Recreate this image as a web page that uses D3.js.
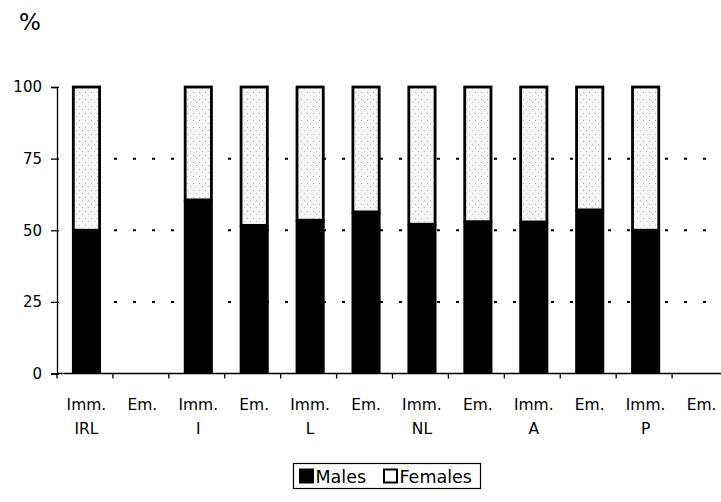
<!DOCTYPE html>
<html><head><meta charset="utf-8">
<script src="https://cdn.jsdelivr.net/npm/d3@7"></script>
<style>body{margin:0;background:#fff}svg{display:block}text{font-family:"DejaVu Sans",Arial,sans-serif;fill:#000}</style>
</head><body>
<script>
const categories = ["IRL-Imm","IRL-Em","I-Imm","I-Em","L-Imm","L-Em","NL-Imm","NL-Em","A-Imm","A-Em","P-Imm","P-Em"];
const flowLabels = ["Imm.","Em.","Imm.","Em.","Imm.","Em.","Imm.","Em.","Imm.","Em.","Imm.","Em."];
const countryLabels = ["IRL","","I","","L","","NL","","A","","P",""];
const males = [50.0,null,60.6,51.7,53.5,56.4,52.1,53.0,52.9,57.1,50.0,null];
const females = males.map(v => v == null ? null : 100 - v);
const yTicks = [0,25,50,75,100];
const seriesNames = ["Males","Females"];

const W = 721, H = 502;
const svg = d3.select("body").append("svg").attr("width", W).attr("height", H);

const defs = svg.append("defs");
const pat = defs.append("pattern").attr("id","stip").attr("patternUnits","userSpaceOnUse").attr("width",6).attr("height",7);
pat.append("rect").attr("width",6).attr("height",7).attr("fill","#f6f6f6");
pat.append("rect").attr("x",1).attr("y",1).attr("width",1).attr("height",1).attr("fill","#b0b0b0");
pat.append("rect").attr("x",4).attr("y",4).attr("width",1).attr("height",1).attr("fill","#c4c4c4");

const x = d3.scaleBand().domain(categories).range([58.5, 729.5]).paddingInner(0.53).paddingOuter(0.265);
const y = d3.scaleLinear().domain([0,100]).range([373.5, 87]);
const step = x.step();
const edge = d => x(d) - x.paddingOuter() * step;

// dotted gridlines
svg.append("g").selectAll("line").data(yTicks.filter(t => t > 0 && t < 100)).join("line")
  .attr("x1", 114).attr("x2", 728)
  .attr("y1", d => y(d)).attr("y2", d => y(d))
  .attr("stroke", "#000").attr("stroke-width", 2).attr("stroke-dasharray", "3,16");

// bars
const data = categories.map((c,i) => ({c, m: males[i], f: females[i]})).filter(d => d.m != null);
const g = svg.append("g");
g.selectAll("rect.f").data(data).join("rect").attr("class","f")
  .attr("x", d => x(d.c)).attr("width", x.bandwidth())
  .attr("y", d => y(d.m + d.f)).attr("height", d => y(d.m) - y(d.m + d.f))
  .attr("fill", "url(#stip)").attr("stroke", "#000").attr("stroke-width", 2.8);
g.selectAll("rect.m").data(data).join("rect").attr("class","m")
  .attr("x", d => x(d.c) - 1.4).attr("width", x.bandwidth() + 2.8)
  .attr("y", d => y(d.m)).attr("height", d => y(0) - y(d.m))
  .attr("fill", "#000");

// y axis
const ya = svg.append("g").attr("transform", "translate(57,0)")
  .call(d3.axisLeft(y).tickValues(yTicks).tickSize(6).tickPadding(9));
ya.select(".domain").attr("stroke-width", 1.3);
ya.selectAll(".tick line").attr("stroke-width", 1.3).attr("x2", 2).attr("x1", -6);
ya.selectAll("text").attr("font-size", 15).attr("font-family", "DejaVu Sans, Arial, sans-serif");

// x axis
const xa = svg.append("g").attr("transform", "translate(0,373.5)");
xa.append("line").attr("x1", 57).attr("x2", 728).attr("stroke", "#000").attr("stroke-width", 1.3);
xa.selectAll("line.t").data(categories).join("line").attr("class","t")
  .attr("x1", d => edge(d) - 1.5).attr("x2", d => edge(d) - 1.5)
  .attr("y1", 0).attr("y2", 5).attr("stroke", "#000").attr("stroke-width", 1.3);
xa.selectAll("text.flow").data(categories).join("text").attr("class","flow")
  .attr("x", d => x(d) + x.bandwidth()/2).attr("y", 36)
  .attr("text-anchor", "middle").attr("font-size", 15.5)
  .text((d,i) => flowLabels[i]);
xa.selectAll("text.cty").data(categories).join("text").attr("class","cty")
  .attr("x", d => x(d) + x.bandwidth()/2).attr("y", 60)
  .attr("text-anchor", "middle").attr("font-size", 15.5)
  .text((d,i) => countryLabels[i]);

// % label
svg.append("text").attr("x", 30).attr("y", 30).attr("text-anchor", "middle").attr("font-size", 23).text("%");

// legend
const lg = svg.append("g");
lg.append("rect").attr("x", 293.5).attr("y", 463.5).attr("width", 187).attr("height", 25)
  .attr("fill", "#fff").attr("stroke", "#000").attr("stroke-width", 1.2);
const lx = [299, 383];
seriesNames.forEach((s, i) => {
  lg.append("rect").attr("x", lx[i] + 1).attr("y", 469.5).attr("width", 13).attr("height", 13)
    .attr("fill", i === 0 ? "#000" : "#fff").attr("stroke", "#000").attr("stroke-width", 2);
  lg.append("text").attr("x", lx[i] + 16.5).attr("y", 482.5).attr("font-size", 17.5).text(s);
});
</script>
</body></html>
